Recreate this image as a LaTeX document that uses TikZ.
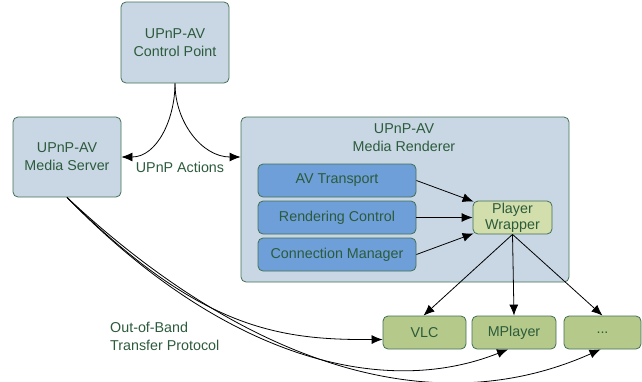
\documentclass[tikz,border=0pt]{standalone}
\usepackage{fontspec}
\setmainfont{Liberation Sans}
\usepackage{xcolor}
\usetikzlibrary{positioning,arrows.meta}

\definecolor{devfill}{HTML}{C9D7E5}
\definecolor{svcfill}{HTML}{6E9FD9}
\definecolor{wrapfill}{HTML}{D2DEAC}
\definecolor{playfill}{HTML}{B5C98B}
\definecolor{edgegreen}{HTML}{426F55}
\definecolor{textgreen}{HTML}{2C5B3B}

\tikzset{
  device/.style={draw=edgegreen, fill=devfill, rounded corners=5pt, align=center, text=textgreen, inner sep=0pt, line width=0.8pt},
  service/.style={draw=edgegreen, fill=svcfill, rounded corners=5pt, text=textgreen, inner sep=0pt, minimum width=158pt, minimum height=33pt, line width=0.8pt},
  wrapper/.style={draw=edgegreen, fill=wrapfill, rounded corners=5pt, align=center, text=textgreen, inner sep=0pt, minimum width=79pt, minimum height=33pt, line width=0.8pt},
  player/.style={draw=edgegreen, fill=playfill, rounded corners=5pt, text=textgreen, inner sep=0pt, minimum height=33pt, line width=0.8pt},
  flow/.style={-{Latex[length=11pt,width=9pt]}, line width=0.8pt},
  caption/.style={text=textgreen, inner sep=0pt}
}

\begin{document}
\begin{tikzpicture}[x=1pt, y=-1pt, font=\fontsize{14.3}{18}\selectfont]
  \useasboundingbox (0,0) rectangle (642,381);

  % devices
  \node[device, minimum width=108pt, minimum height=81pt] (cp) at (175,42.5) {UPnP-AV\\Control Point};
  \node[device, minimum width=108pt, minimum height=80pt] (ms) at (67,157) {UPnP-AV\\Media Server};
  \node[device, minimum width=328pt, minimum height=165pt] (mr) at (405,199.5) {};
  \node[caption, align=center] (mrtext) at (404,138) {UPnP-AV\\Media Renderer};

  % renderer services
  \node[service] (avt) at (337,180.5) {AV Transport};
  \node[service] (rc) at (337,217.5) {Rendering Control};
  \node[service] (cm) at (337,254.5) {Connection Manager};
  \node[wrapper] (pw) at (512.5,217.5) {Player\\[-2pt]Wrapper};

  % players
  \node[player, minimum width=83pt] (vlc) at (424.5,332.5) {VLC};
  \node[player, minimum width=84pt] (mplayer) at (514,332.5) {MPlayer};
  \node[player, minimum width=77pt] (other) at (602.5,332.5) {...};

  % labels
  \node[caption] (actions) at (180,167) {UPnP Actions};
  \node[caption, anchor=west, align=left] (oob) at (110,336) {Out-of-Band\\Transfer Protocol};

  % control
  \draw[flow] (cp.south) to[out=-90, in=0] (ms.east);
  \draw[flow] (cp.south) to[out=-90, in=180] (mr.west |- ms.east);

  \draw[flow] (avt.east) -- ([xshift=1pt, yshift=-1pt]pw.north west);
  \draw[flow] (rc.east) -- (pw.west);
  \draw[flow] (cm.east) -- ([xshift=1pt, yshift=1pt]pw.south west);

  \draw[flow] (pw.south) -- ([xshift=-1pt]vlc.north);
  \draw[flow] (pw.south) -- (mplayer.north);
  \draw[flow] (pw.south) -- (other.north);

  % out-of-band transfer
  \draw[flow] (ms.south) .. controls (200,330) and (280,340) .. ([yshift=-7pt]vlc.west);
  \draw[flow] (ms.south) .. controls (220,355) and (380,400) .. ([xshift=-6pt]mplayer.south);
  \draw[flow] (ms.south) .. controls (230,350) and (420,430) .. ([xshift=-2pt]other.south);
\end{tikzpicture}
\end{document}
